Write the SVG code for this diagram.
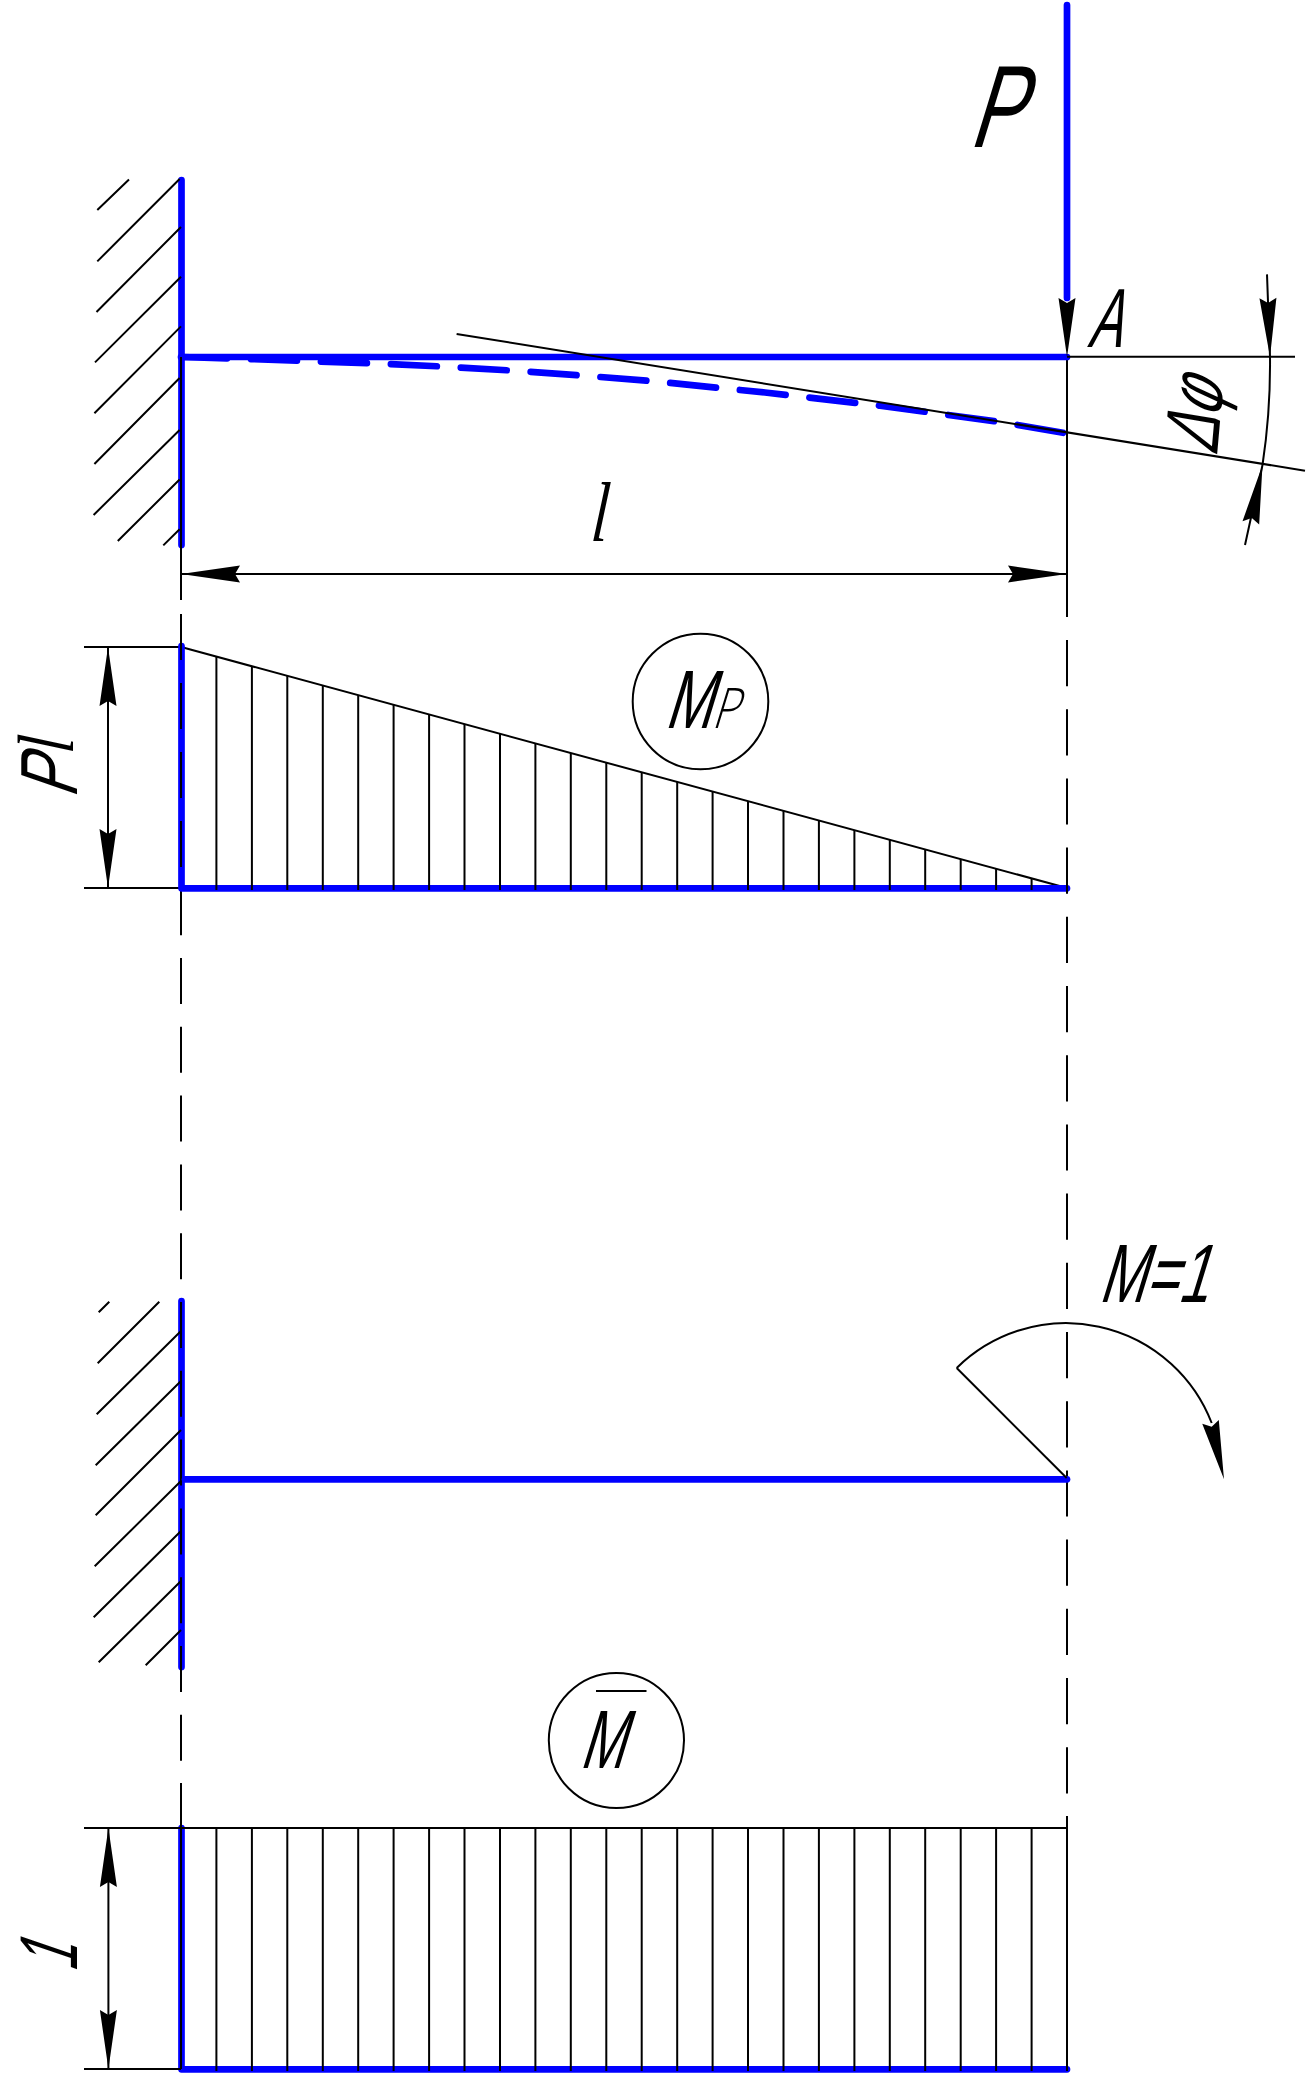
<svg xmlns="http://www.w3.org/2000/svg" width="1310" height="2076" viewBox="0 0 1310 2076">
<style>
.bg{fill:#fff}
.thin{fill:none;stroke:#000;stroke-width:2}
.blue{fill:none;stroke:#00f;stroke-width:6.7;stroke-linecap:round;stroke-linejoin:round}
.ah{fill:#000}
.t{font-family:"Liberation Sans",Arial,sans-serif;fill:#000}
.u{font-family:"Open Sans","Liberation Sans",sans-serif;font-weight:300;fill:#000}
.s{font-family:"Liberation Serif",serif;font-style:italic;fill:#000}
</style>
<defs>
<polygon id="ah" class="ah" points="0,0 -59,-8.5 -54,0 -59,8.5"/>
</defs>
<rect class="bg" width="1310" height="2076"/>
<g id="connectors">
<path id="centre-left-top" class="thin" d="M181 357V590"/>
<path id="centre-left-dash" class="thin" stroke-dasharray="46 22.8" d="M181 614V1783"/>
<path id="centre-left-bottom" class="thin" d="M181 1783V2069"/>
<path id="centre-right-top" class="thin" d="M1067 357V617"/>
<path id="centre-right-dash" class="thin" stroke-dasharray="46.2 23" d="M1067 640V1816"/>
<path id="centre-right-bottom" class="thin" d="M1067 1816V2069"/>
</g>
<g id="top-beam">
<path id="wall-1" class="blue" d="M181.5 180V545"/>
<path id="hatch-1" class="thin" d="M97.3 210L129 179.5M97.3 261.4L179.6 179M96.5 312L181 227M95 362.4L181 276.7M94.4 413.3L181 326.4M94.4 464L179.6 378M93.6 515L179.6 430M117.8 541L179.6 479.5M163.3 545.4L179.6 529.3"/>
<path id="beam-1" class="blue" d="M181.5 357H1067"/>
<path id="deflection" class="blue" stroke-dasharray="46 24" d="M181 357L250 359L320 361.5L389 364L442 366.5L511 370.5L581 375.5L651 381L765 392.5L880 405.7L931 412.6L1000 422L1068 433.6"/>
<path id="tangent" class="thin" d="M456.6 334L1305 470.7"/>
<path id="centre-left-over" class="thin" d="M181 357V600"/>
<use href="#ah" transform="translate(1067 357) rotate(90)"/>
<path id="force" class="blue" d="M1067 5V298"/>
<path id="ext-a" class="thin" d="M1067 356.7H1295"/>
<path id="dphi-arc" class="thin" d="M1267 274.4L1270 357A671 671 0 0 1 1262.5 465L1245 545"/>
<use href="#ah" transform="translate(1270 357) rotate(88)"/>
<use href="#ah" transform="translate(1262.5 465) rotate(-78.6)"/>
<path id="dim-l" class="thin" d="M181 574H1067"/>
<use href="#ah" transform="translate(181 574) rotate(180)"/>
<use href="#ah" transform="translate(1067 574)"/>
<text class="t" font-size="117" transform="translate(968 146.6) skewX(-17) scale(.68 1)">P</text>
<text class="t" font-size="84" transform="translate(1087 347) skewX(-17) scale(.6 1)">A</text>
<text class="t" font-size="77" transform="translate(1217 456) rotate(-85) skewX(-20) scale(.72 1)">Δφ</text>
<text class="s" font-size="85" transform="translate(590 541) skewX(-5) scale(.72 1)">l</text>
</g>
<g id="mp-diagram">
<path id="mp-hatch" class="thin" d="M216.4 656.6V890M251.9 666.3V890M287.3 675.9V890M322.8 685.6V890M358.2 695.2V890M393.6 704.8V890M429.1 714.5V890M464.5 724.1V890M500 733.8V890M535.4 743.4V890M570.8 753V890M606.3 762.7V890M641.7 772.3V890M677.2 782V890M712.6 791.6V890M748 801.2V890M783.5 810.9V890M818.9 820.5V890M854.4 830.2V890M889.8 839.8V890M925.2 849.4V890M960.7 859.1V890M996.1 868.7V890M1031.6 878.4V890"/>
<path id="mp-slope" class="thin" d="M183 647.5L1067 888"/>
<path id="mp-ext" class="thin" d="M84 647H181M84 888H181"/>
<path id="mp-base" class="blue" d="M181.5 646V888.3H1067"/>
<path id="mp-centre" class="thin" stroke-dasharray="46 23" d="M181 614V890"/>
<path id="mp-hatch-over" class="thin" d="M216.4 885V890M251.9 885V890M287.3 885V890M322.8 885V890M358.2 885V890M393.6 885V890M429.1 885V890M464.5 885V890M500 885V890M535.4 885V890M570.8 885V890M606.3 885V890M641.7 885V890M677.2 885V890M712.6 885V890M748 885V890M783.5 885V890M818.9 885V890M854.4 885V890M889.8 885V890M925.2 885V890M960.7 885V890M996.1 885V890M1031.6 885V890M1067 880V893"/>
<path id="dim-pl" class="thin" d="M108 647V888"/>
<use href="#ah" transform="translate(108 647) rotate(-90)"/>
<use href="#ah" transform="translate(108 888) rotate(90)"/>
<text class="t" font-size="81" transform="translate(77 799) rotate(-90) skewX(-19) scale(.72 1)">P</text>
<text class="s" font-size="80" transform="translate(73 754) rotate(-90) skewX(-5) scale(.72 1)">l</text>
<circle id="mp-circle" class="thin" cx="700.5" cy="701.5" r="67.8"/>
<text class="t" font-size="83" transform="translate(664 728.3) skewX(-17) scale(.68 1)">M</text>
<text class="u" font-size="56" transform="translate(711 728.3) skewX(-17) scale(.8 1)">P</text>
</g>
<g id="unit-beam">
<path id="wall-2" class="blue" d="M181.5 1301V1667"/>
<path id="centre-left-wall" class="thin" stroke-dasharray="46 22.8" d="M181 1302V1680"/>
<path id="hatch-2" class="thin" d="M98.7 1312.3L109.3 1301.7M97.7 1363.3L159.3 1301.7M96.7 1414.3L181 1331M95.7 1465.3L181 1381M95.7 1515.3L181 1430M94.7 1566.3L181 1481M93.7 1617.3L181 1531M98.7 1662.3L181 1581M145.7 1665.3L181 1630"/>
<path id="beam-2" class="blue" d="M185 1479.3H1067"/>
<path id="moment-arm" class="thin" d="M1066.7 1478L956.7 1368"/>
<path id="moment-arc" class="thin" d="M956.7 1368A156 156 0 0 1 1211.7 1423"/>
<use href="#ah" transform="translate(1224 1479.3) rotate(76.8)"/>
<text class="t" font-size="83" transform="translate(1098 1302) skewX(-17) scale(.67 1)">M=1</text>
</g>
<g id="unit-diagram">
<path id="unit-base" class="blue" d="M181.5 1828V2069.3H1067"/>
<path id="centre-left-unit" class="thin" d="M181 1783V2069"/>
<path id="unit-hatch" class="thin" d="M216.4 1828V2071M251.9 1828V2071M287.3 1828V2071M322.8 1828V2071M358.2 1828V2071M393.6 1828V2071M429.1 1828V2071M464.5 1828V2071M500 1828V2071M535.4 1828V2071M570.8 1828V2071M606.3 1828V2071M641.7 1828V2071M677.2 1828V2071M712.6 1828V2071M748 1828V2071M783.5 1828V2071M818.9 1828V2071M854.4 1828V2071M889.8 1828V2071M925.2 1828V2071M960.7 1828V2071M996.1 1828V2071M1031.6 1828V2071M1067 1816V2071"/>
<path id="unit-ext" class="thin" d="M84 1828H1067M84 2069H181"/>
<path id="dim-1" class="thin" d="M108.4 1828V2069"/>
<use href="#ah" transform="translate(108.4 1828) rotate(-90)"/>
<use href="#ah" transform="translate(108.4 2069) rotate(90)"/>
<text class="t" font-size="82" transform="translate(77 1973) rotate(-90) skewX(-19) scale(.62 1)">1</text>
<circle id="unit-circle" class="thin" cx="616.4" cy="1740.5" r="67.6"/>
<text class="t" font-size="83" transform="translate(579 1768) skewX(-17) scale(.64 1)">M</text>
<path id="overbar" class="thin" d="M596 1691H646.5"/>
</g>
</svg>
